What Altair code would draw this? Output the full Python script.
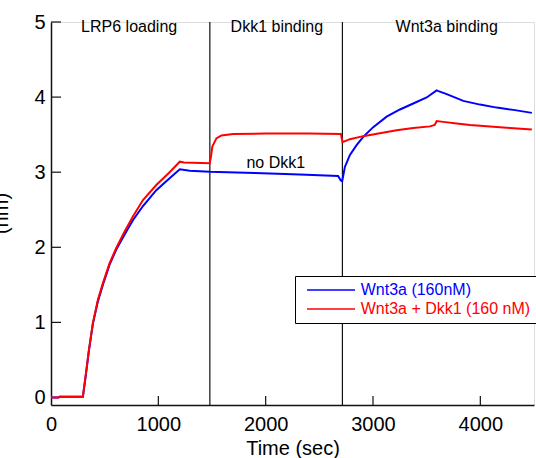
import altair as alt
import pandas as pd

# ---- data ----
series_names = ["Wnt3a (160nM)", "Wnt3a + Dkk1 (160 nM)"]
series_colors = ["#0000ff", "#ff0000"]

blue_time = [0, 70, 80, 297, 322, 353, 390, 437, 483, 546, 608, 686, 763, 857, 981, 1105, 1200,
             1292, 1479, 1900, 2318, 2675, 2700, 2713, 2738, 2785, 2847, 2909, 3002, 3127, 3251,
             3375, 3500, 3593, 3610, 3687, 3841, 3997, 4153, 4308, 4480]
blue_value = [0.0, 0.0, 0.01, 0.01, 0.27, 0.62, 0.98, 1.28, 1.50, 1.77, 1.97, 2.17, 2.36, 2.55, 2.76, 2.92, 3.04,
              3.02, 3.005, 2.99, 2.97, 2.95, 2.89, 2.88, 3.07, 3.23, 3.36, 3.47, 3.60, 3.74, 3.835,
              3.915, 3.995, 4.09, 4.08, 4.04, 3.95, 3.90, 3.86, 3.83, 3.79]

red_time = [0, 70, 80, 297, 322, 353, 390, 437, 483, 546, 608, 686, 763, 857, 981, 1105, 1200, 1240,
            1479, 1490, 1503, 1541, 1588, 1696, 2000, 2400, 2700, 2712, 2716, 2785, 2909, 3064, 3220,
            3375, 3531, 3575, 3593, 3655, 3780, 3904, 4090, 4277, 4480]
red_value = [0.0, 0.0, 0.01, 0.01, 0.28, 0.63, 0.99, 1.30, 1.52, 1.79, 1.99, 2.21, 2.41, 2.63, 2.83, 3.0, 3.14, 3.13,
             3.12, 3.2, 3.34, 3.45, 3.49, 3.51, 3.515, 3.515, 3.51, 3.43, 3.40, 3.44, 3.48, 3.52, 3.56,
             3.59, 3.61, 3.63, 3.68, 3.67, 3.65, 3.63, 3.61, 3.59, 3.57]

phase_bounds = [1480, 2715]
phase_labels = ["LRP6 loading", "Dkk1 binding", "Wnt3a binding"]
phase_label_x = [728, 2104, 3687]
phase_label_y = [4.93, 4.93, 4.93]
note_labels = ["no Dkk1"]
note_x = [2094]
note_y = [3.125]

x_ticks = [0, 1000, 2000, 3000, 4000]
y_ticks = [0, 1, 2, 3, 4, 5]
x_inner_ticks = [1000, 2000, 3000, 4000]
y_inner_ticks = [1, 2, 3, 4, 5]

# ---- tables ----
lines_df = pd.concat([
    pd.DataFrame({"t": blue_time, "v": blue_value, "series": series_names[0]}),
    pd.DataFrame({"t": red_time, "v": red_value, "series": series_names[1]}),
])
phase_df = pd.DataFrame({"t": phase_bounds})
label_df = pd.DataFrame({"t": phase_label_x, "v": phase_label_y, "txt": phase_labels})
note_df = pd.DataFrame({"t": note_x, "v": note_y, "txt": note_labels})
xt_df = pd.DataFrame({"t": x_inner_ticks})
yt_df = pd.DataFrame({"v": y_inner_ticks})

W, H = 483, 383
FONT = "Liberation Sans"

xscale = alt.Scale(domain=[0, 4500], nice=False, zero=False)
yscale = alt.Scale(domain=[-0.1, 5], nice=False, zero=False)

x_axis = alt.Axis(values=x_ticks, format="d", tickSize=0, labelFontSize=20, labelColor="black", labelPadding=9,
                  labelFlush=False, labelOverlap=False, domainColor="#111", domainWidth=1.5, grid=False,
                  title="Time (sec)", titleFontSize=20, titleFontWeight="normal", titleColor="black",
                  titlePadding=4, labelFont=FONT, titleFont=FONT)
y_axis = alt.Axis(values=y_ticks, format="d", tickSize=0, labelFontSize=20, labelColor="black", labelPadding=6,
                  labelFlush=False, labelOverlap=False, domainColor="#111", domainWidth=1.5, grid=False,
                  title="(nm)", titleFontSize=20, titleFontWeight="normal", titleColor="black",
                  titleAngle=270, titleX=-44, titleY=191, titleAlign="center", titleBaseline="alphabetic",
                  labelFont=FONT, titleFont=FONT)

legend = alt.Legend(
    title=None, orient="none", legendX=244, legendY=254, padding=6,
    strokeColor="black", fillColor="white",
    symbolType="M-0.33,0H7.67", symbolSize=144, symbolStrokeWidth=1.5,
    labelOffset=43.7, labelFontSize=16, labelFont=FONT, labelLimit=400, rowPadding=3,
    labelColor=alt.ExprRef("datum.value == '" + series_names[0] + "' ? '" + series_colors[0] + "' : '" + series_colors[1] + "'"),
)
color = alt.Color("series:N", scale=alt.Scale(domain=series_names, range=series_colors), legend=legend)

base = alt.Chart(lines_df)
blue_line = base.transform_filter(alt.datum.series == series_names[0]).mark_line(strokeWidth=2).encode(
    x=alt.X("t:Q", scale=xscale, axis=x_axis),
    y=alt.Y("v:Q", scale=yscale, axis=y_axis),
    color=color,
    order="t:Q",
)
red_line = base.transform_filter(alt.datum.series == series_names[1]).mark_line(strokeWidth=2).encode(
    x=alt.X("t:Q", scale=xscale),
    y=alt.Y("v:Q", scale=yscale),
    color=color,
    order="t:Q",
)

phase_rules = alt.Chart(phase_df).mark_rule(color="#111", strokeWidth=1.2).encode(
    x=alt.X("t:Q", scale=xscale), y=alt.value(0), y2=alt.value(H)
)
xticks_layer = alt.Chart(xt_df).mark_rule(color="#111", strokeWidth=1.2).encode(
    x=alt.X("t:Q", scale=xscale), y=alt.value(H), y2=alt.value(H - 9)
)
yticks_layer = alt.Chart(yt_df).mark_rule(color="#111", strokeWidth=1.2).encode(
    y=alt.Y("v:Q", scale=yscale), x=alt.value(0), x2=alt.value(10)
)
labels_layer = alt.Chart(label_df).mark_text(fontSize=16, font=FONT, color="black").encode(
    x=alt.X("t:Q", scale=xscale), y=alt.Y("v:Q", scale=yscale), text="txt:N"
)
note_layer = alt.Chart(note_df).mark_text(fontSize=16, font=FONT, color="black").encode(
    x=alt.X("t:Q", scale=xscale), y=alt.Y("v:Q", scale=yscale), text="txt:N"
)

chart = alt.layer(
    phase_rules, xticks_layer, yticks_layer, blue_line, red_line, labels_layer, note_layer
).properties(
    width=W, height=H,
    autosize=alt.AutoSizeParams(type="none"),
    padding={"left": 51, "top": 22, "right": 2, "bottom": 53},
    background="white",
).configure_view(stroke=None).configure(font=FONT)

chart.save("out.html", embed_options={"renderer": "svg", "actions": False})
